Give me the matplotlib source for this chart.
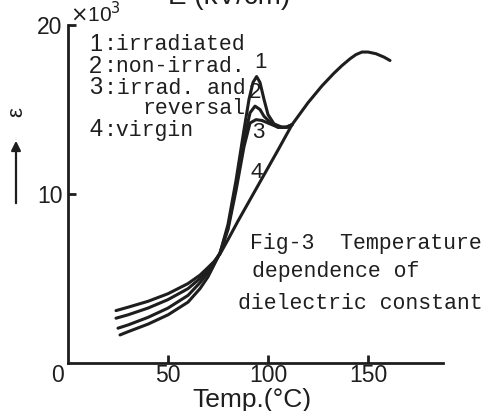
import matplotlib
matplotlib.use("Agg")
import matplotlib.pyplot as plt

# curves (temp in C, eps in units of 1e3)
temp_virgin = [24, 30, 40, 50, 60, 66, 70, 73, 76, 80, 85, 95, 105, 112, 120, 127, 133, 137, 141, 144, 147, 150, 154, 158, 161]
eps_virgin = [3.1, 3.3, 3.65, 4.1, 4.7, 5.2, 5.65, 6.0, 6.45, 7.3, 8.4, 10.5, 12.6, 14.1, 15.4, 16.4, 17.15, 17.6, 18.0, 18.25, 18.4, 18.4, 18.3, 18.1, 17.9]

temp_rev = [24, 30, 40, 50, 60, 66, 70, 73, 76, 80, 84, 88, 91, 94, 97, 101, 105, 109, 112]
eps_rev = [2.65, 2.85, 3.25, 3.75, 4.4, 5.0, 5.5, 5.95, 6.5, 7.9, 10.2, 12.8, 14.2, 14.4, 14.35, 14.15, 13.95, 13.95, 14.1]

temp_nonirr = [25, 30, 40, 50, 60, 66, 70, 73, 76, 80, 84, 88, 91, 93.5, 96, 98, 101, 105, 109, 112]
eps_nonirr = [2.06, 2.25, 2.7, 3.25, 4.0, 4.75, 5.35, 5.9, 6.5, 8.0, 10.5, 13.2, 14.8, 15.2, 15.0, 14.6, 14.25, 13.95, 13.95, 14.1]

temp_irr = [26, 30, 40, 50, 60, 66, 70, 73, 76, 80, 84, 88, 90.5, 92.5, 94.3, 96, 98, 100, 103, 107, 110, 112]
eps_irr = [1.66, 1.85, 2.3, 2.85, 3.6, 4.4, 5.1, 5.8, 6.5, 8.2, 10.8, 13.8, 15.6, 16.6, 16.95, 16.6, 15.6, 14.7, 14.15, 13.95, 13.95, 14.1]

legend_nums = ["1", "2", "3", "4"]
legend_text = [":irradiated", ":non-irrad.", ":irrad. and", ":virgin"]

W, H = 491, 411


def fp(x, y):
    # pixel position -> figure fraction
    return x / W, 1 - y / H


fig = plt.figure(figsize=(W / 100, H / 100), dpi=100)
ax = fig.add_axes([68 / W, 48 / H, 375 / W, 338 / H])

ink = "#1e1e1e"
for t, e in [(temp_virgin, eps_virgin), (temp_rev, eps_rev),
             (temp_nonirr, eps_nonirr), (temp_irr, eps_irr)]:
    ax.plot(t, e, color=ink, lw=2.2, solid_capstyle="round", solid_joinstyle="round")

ax.set_xlim(0, 187.5)
ax.set_ylim(0, 20)
for s in ["top", "right"]:
    ax.spines[s].set_visible(False)
for s in ["left", "bottom"]:
    ax.spines[s].set_linewidth(2)
    ax.spines[s].set_color(ink)

ax.set_xticks([50, 100, 150])
ax.set_yticks([10, 20])
ax.tick_params(direction="in", length=6, width=2, colors=ink)
ax.tick_params(axis="x", pad=1)
ax.tick_params(axis="y", pad=4)
sans = "Liberation Sans"
for lab in ax.get_xticklabels() + ax.get_yticklabels():
    lab.set_fontfamily(sans)
    lab.set_fontsize(16.5)

fig.text(*fp(57, 375), "0", family=sans, fontsize=16.5, ha="center", va="center", color=ink)
fig.text(*fp(70, 22), r"$\times$10$^3$", family=sans, fontsize=15, ha="left", va="baseline", color=ink)
fig.text(*fp(252, 400), "Temp.(°C)", family=sans, fontsize=19, ha="center", va="center", color=ink)
fig.text(*fp(229, 4), "E (kV/cm)", family=sans, fontsize=20, ha="center", va="baseline", color=ink)

# y label with arrow
fig.text(*fp(17, 112), "ε", family=sans, fontsize=16, rotation=90, ha="center", va="center", color=ink)
fig.add_artist(plt.Annotation("", xy=fp(16, 138), xytext=fp(16, 206),
                              xycoords="figure fraction", textcoords="figure fraction",
                              arrowprops=dict(arrowstyle="-|>", color=ink, lw=1.6, mutation_scale=14)))

# legend block
mono = "Liberation Mono"
rows_y = [45, 67, 88, 130]
for n, txt, y in zip(legend_nums, legend_text, rows_y):
    fig.text(*fp(89, y), n, family=sans, fontsize=17, ha="left", va="center", color=ink)
    fig.text(*fp(104, y), txt, family=mono, fontsize=15.5, ha="left", va="center", color=ink)
fig.text(*fp(142, 108), "reversal", family=mono, fontsize=15.5, ha="left", va="center", color=ink)

# curve labels
for n, (x, y) in zip(legend_nums, [(260, 62), (255, 92), (258, 132), (257, 172)]):
    fig.text(*fp(x, y), n, family=sans, fontsize=16, ha="center", va="center", color=ink)

# caption
fig.text(*fp(250, 243), "Fig-3  Temperature", family=mono, fontsize=15.5, ha="left", va="center", color=ink)
fig.text(*fp(252, 271), "dependence of", family=mono, fontsize=15.5, ha="left", va="center", color=ink)
fig.text(*fp(238, 303), "dielectric constant", family=mono, fontsize=15.5, ha="left", va="center", color=ink)

fig.savefig("out.png", dpi=100)
